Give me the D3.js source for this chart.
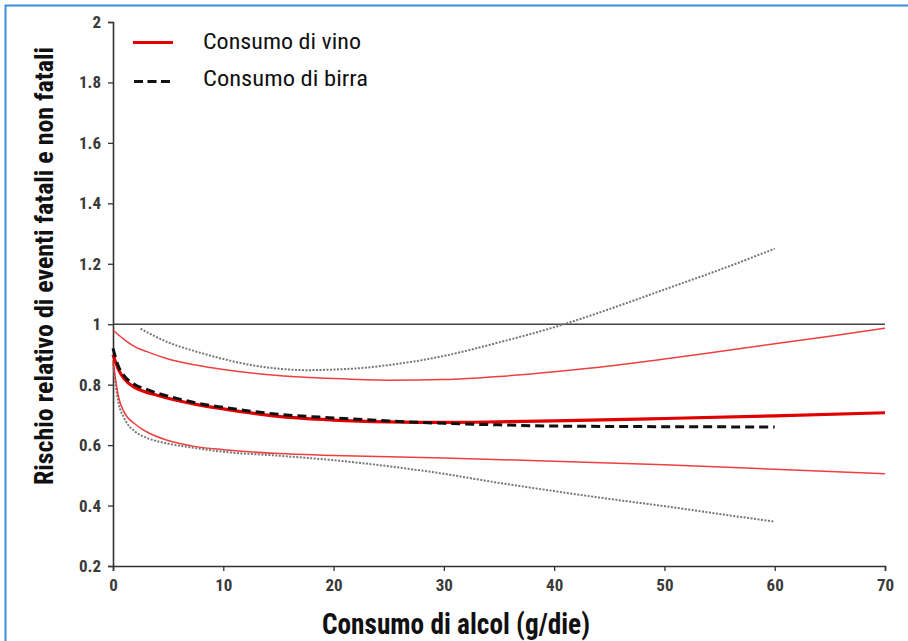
<!DOCTYPE html>
<html><head><meta charset="utf-8">
<script src="https://cdn.jsdelivr.net/npm/d3@7"></script>
<style>
body{margin:0;background:#fff;}
svg{display:block;}
text{font-family:"Liberation Sans Narrow","Roboto Condensed","Arial Narrow",sans-serif;}
</style></head><body>
<svg id="c" width="908" height="641"></svg>
<script>
const xTicks = [0,10,20,30,40,50,60,70];
const yTicks = [0.2,0.4,0.6,0.8,1,1.2,1.4,1.6,1.8,2];
const yTickLabels = ["0.2","0.4","0.6","0.8","1","1.2","1.4","1.6","1.8","2"];

const wineX    = [0,0.5,1,2,3,4,5,7.5,10,15,20,25,30,35,40,50,60,70];
const wineMain = [0.9,0.85,0.82,0.79,0.775,0.765,0.755,0.735,0.72,0.695,0.683,0.677,0.675,0.677,0.68,0.688,0.697,0.707];

const wineCIx    = [0,1,2,3,5,7.5,10,15,20,25,30,35,40,45,50,55,60,65,70];
const wineUpper  = [0.98,0.95,0.925,0.91,0.885,0.865,0.85,0.83,0.82,0.815,0.817,0.827,0.843,0.862,0.885,0.91,0.935,0.96,0.987];
const wineLowX   = [0,0.5,1,2,3,5,7.5,10,15,20,30,40,50,60,70];
const wineLower  = [0.88,0.76,0.71,0.67,0.645,0.615,0.595,0.585,0.572,0.566,0.557,0.547,0.535,0.52,0.505];

const beerX    = [0,0.5,1,2,3,4,5,7.5,10,15,20,25,30,35,40,50,60];
const beerMain = [0.92,0.86,0.83,0.8,0.785,0.772,0.762,0.74,0.725,0.702,0.69,0.68,0.672,0.667,0.663,0.661,0.66];

const beerUpX  = [2.5,5,7.5,10,12.5,15,17.5,20,22.5,25,27.5,30,35,40,45,50,55,60];
const beerUpper= [0.985,0.94,0.91,0.885,0.865,0.853,0.848,0.85,0.855,0.865,0.878,0.895,0.94,0.99,1.05,1.115,1.18,1.25];
const beerLowX = [0,0.5,1,2,3,5,7.5,10,15,20,25,30,35,40,45,50,55,60];
const beerLower= [0.87,0.74,0.69,0.645,0.625,0.605,0.59,0.578,0.565,0.55,0.53,0.505,0.475,0.448,0.422,0.398,0.372,0.347];

const legendLabels = ["Consumo di vino","Consumo di birra"];
const xTitle = "Consumo di alcol (g/die)";
const yTitle = "Rischio relativo di eventi fatali e non fatali";

const svg = d3.select("#c");
// blue frame (top + left)
svg.append("line").attr("x1",5).attr("x2",908).attr("y1",5.5).attr("y2",5.5).attr("stroke","#3a8fd8").attr("stroke-width",2);
svg.append("line").attr("x1",5.5).attr("x2",5.5).attr("y1",5).attr("y2",641).attr("stroke","#3a8fd8").attr("stroke-width",2);

const x = d3.scaleLinear().domain([0,70]).range([113,885]);
const y = d3.scaleLinear().domain([0.2,2]).range([566,22]);

const xAxis = svg.append("g").attr("transform","translate(0,566)")
  .call(d3.axisBottom(x).tickValues(xTicks).tickSize(5).tickPadding(8).tickFormat(d3.format("d")));
const yAxis = svg.append("g").attr("transform","translate(113,0)")
  .call(d3.axisLeft(y).tickValues(yTicks).tickSize(5).tickPadding(7).tickFormat((d,i)=>yTickLabels[i]));
[xAxis,yAxis].forEach(a=>{
  a.select(".domain").attr("stroke","#333").attr("stroke-width",1.6);
  a.selectAll(".tick line").attr("stroke","#333").attr("stroke-width",1.3);
  a.selectAll(".tick text").attr("fill","#3a3a3a").attr("font-size",17).attr("font-weight","bold")
   .style("font-family",'"Liberation Sans Narrow","Roboto Condensed",sans-serif');
});

// reference line at 1
svg.append("line").attr("x1",x(0)).attr("x2",x(70)).attr("y1",y(1)).attr("y2",y(1))
  .attr("stroke","#444").attr("stroke-width",1.5);

const line = d3.line().x(d=>x(d[0])).y(d=>y(d[1])).curve(d3.curveMonotoneX);
const zip = (a,b)=>a.map((v,i)=>[v,b[i]]);

function draw(xs,ys,stroke,w,dash,op){
  svg.append("path").datum(zip(xs,ys)).attr("d",line).attr("fill","none")
    .attr("stroke",stroke).attr("stroke-width",w).attr("stroke-dasharray",dash||null)
    .attr("stroke-opacity",op||1);
}
draw(beerUpX,beerUpper,"#777",2,"2,1.5");
draw(beerLowX,beerLower,"#777",2,"2,1.5");
draw(wineCIx,wineUpper,"#ec2a2a",1.5,null,0.9);
draw(wineLowX,wineLower,"#ec2a2a",1.5,null,0.9);
draw(wineX,wineMain,"#e00000",3.2);
draw(beerX,beerMain,"#111",3,"9,5");

// legend
const lg = svg.append("g");
lg.append("line").attr("x1",133).attr("x2",173).attr("y1",42.5).attr("y2",42.5).attr("stroke","#e00000").attr("stroke-width",3);
lg.append("line").attr("x1",134).attr("x2",170).attr("y1",81.5).attr("y2",81.5).attr("stroke","#111").attr("stroke-width",3).attr("stroke-dasharray","9,4.5");
lg.append("text").attr("x",203).attr("y",48.5).attr("font-size",22).attr("fill","#111")
  .attr("textLength",158).attr("lengthAdjust","spacingAndGlyphs").text(legendLabels[0]);
lg.append("text").attr("x",203).attr("y",86).attr("font-size",22).attr("fill","#111")
  .attr("textLength",165).attr("lengthAdjust","spacingAndGlyphs").text(legendLabels[1]);

// titles
svg.append("text").attr("x",322).attr("y",634).attr("font-size",29)
  .attr("font-weight","bold").attr("fill","#111")
  .attr("textLength",268).attr("lengthAdjust","spacingAndGlyphs").text(xTitle);
svg.append("text").attr("transform","translate(53,485) rotate(-90)")
  .attr("font-size",26).attr("font-weight","bold").attr("fill","#111")
  .attr("textLength",438).attr("lengthAdjust","spacingAndGlyphs").text(yTitle);
</script>
</body></html>
